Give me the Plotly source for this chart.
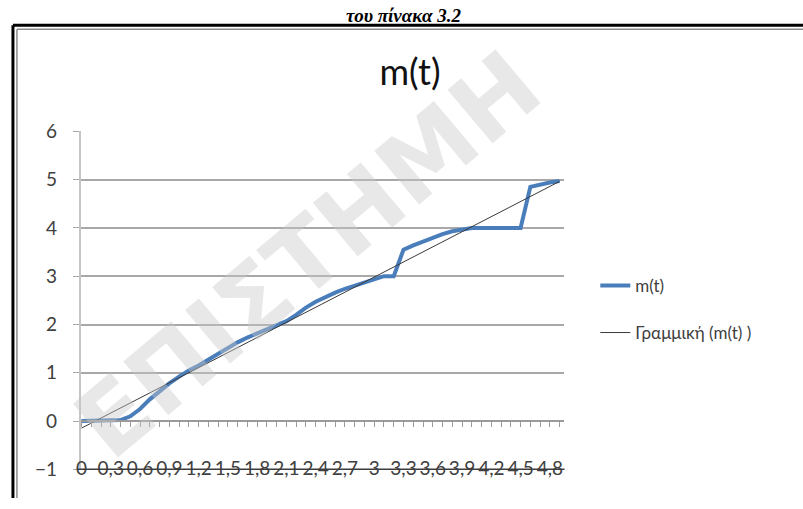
import numpy as np
import plotly.graph_objects as go

# time samples (s) and measured m(t)
t = [0.0, 0.1, 0.2, 0.3, 0.4, 0.5, 0.6, 0.7, 0.8, 0.9,
     1.0, 1.1, 1.2, 1.3, 1.4, 1.5, 1.6, 1.7, 1.8, 1.9,
     2.0, 2.1, 2.2, 2.3, 2.4, 2.5, 2.6, 2.7, 2.8, 2.9,
     3.0, 3.1, 3.2, 3.3, 3.4, 3.5, 3.6, 3.7, 3.8, 3.9,
     4.0, 4.1, 4.2, 4.3, 4.4, 4.5, 4.6, 4.7, 4.8, 4.9]
m = [0.0, 0.0, 0.0, 0.0, 0.02, 0.1, 0.25, 0.45, 0.62, 0.78,
     0.92, 1.05, 1.15, 1.27, 1.4, 1.52, 1.63, 1.73, 1.82, 1.9,
     1.98, 2.07, 2.2, 2.35, 2.47, 2.57, 2.66, 2.74, 2.81, 2.88,
     2.95, 3.0, 3.0, 3.55, 3.64, 3.72, 3.8, 3.87, 3.93, 3.97,
     4.0, 4.0, 4.0, 4.0, 4.0, 4.0, 4.85, 4.9, 4.94, 4.97]

x_tick_vals = [0.0, 0.3, 0.6, 0.9, 1.2, 1.5, 1.8, 2.1, 2.4, 2.7,
               3.0, 3.3, 3.6, 3.9, 4.2, 4.5, 4.8]
x_tick_text = ["0", "0,3", "0,6", "0,9", "1,2", "1,5", "1,8", "2,1", "2,4", "2,7",
               "3", "3,3", "3,6", "3,9", "4,2", "4,5", "4,8"]
y_ticks = [-1, 0, 1, 2, 3, 4, 5, 6]

# least-squares linear trend of m(t)
slope, intercept = np.polyfit(t, m, 1)
trend = [slope * v + intercept for v in t]

W, H = 803, 509
px_x = lambda p: p / W
px_y = lambda p: 1 - p / H

x_dom = [px_x(76), px_x(563)]
y_dom = [px_y(479), px_y(125)]
x_range = [-0.01, 4.95]
y_range = [-1, 6]


def y_at(v):
    return y_dom[0] + (v - y_range[0]) / (y_range[1] - y_range[0]) * (y_dom[1] - y_dom[0])


FONT = "Lato"
TXT = "#404040"

fig = go.Figure()
fig.add_trace(go.Scatter(
    x=t, y=m, mode="lines", name="m(t)", legendgroup="a",
    line=dict(color="#4a7ebb", width=4),
    xaxis="x", yaxis="y",
))
fig.add_trace(go.Scatter(
    x=t, y=trend, mode="lines", name="Γραμμική (m(t) )", legendgroup="b",
    line=dict(color="#3a3a3a", width=1),
    xaxis="x2", yaxis="y",
))

fig.update_layout(
    width=W, height=H,
    margin=dict(l=0, r=0, t=0, b=0),
    paper_bgcolor="white", plot_bgcolor="white",
    showlegend=True,
    legend=dict(
        x=px_x(594), y=px_y(268), xanchor="left", yanchor="top",
        font=dict(family=FONT, size=17, color=TXT),
        tracegroupgap=22, traceorder="grouped",
        bgcolor="rgba(0,0,0,0)",
    ),
    title=dict(
        text="m(t)", x=px_x(410), y=px_y(72), xanchor="center", yanchor="middle",
        font=dict(family=FONT, size=36, color="#111111"),
    ),
    # category labels sit just above the bottom edge of the plot area
    xaxis=dict(
        domain=x_dom, range=x_range, anchor="free", position=px_y(464),
        tickmode="array", tickvals=x_tick_vals, ticktext=x_tick_text,
        ticks="", showgrid=False, zeroline=False, showline=False,
        ticklabelstandoff=0,
        tickfont=dict(family=FONT, size=19, color=TXT),
    ),
    # horizontal axis crossing at m = 0, with a tick per sample
    xaxis2=dict(
        domain=x_dom, range=x_range, overlaying="x", anchor="free",
        position=y_at(0), side="bottom",
        tickmode="linear", tick0=0, dtick=0.1,
        ticks="outside", ticklen=5, tickcolor="#9a9a9a", tickwidth=1,
        showticklabels=False, showgrid=False, zeroline=False,
        showline=True, linecolor="#9a9a9a", linewidth=1.5,
    ),
    yaxis=dict(
        domain=y_dom, range=y_range,
        tickmode="array", tickvals=y_ticks,
        showgrid=True, gridcolor="#a8a8a8", gridwidth=1.5,
        zeroline=False,
        showline=True, linecolor="#c4c4c4", linewidth=1.5,
        ticks="outside", ticklen=6, tickcolor="#a8a8a8",
        ticklabelstandoff=12,
        tickfont=dict(family=FONT, size=19, color=TXT),
    ),
)

# dark bottom edge of the plot area
fig.add_shape(type="line", xref="paper", yref="paper",
              x0=px_x(72), x1=x_dom[1], y0=y_dom[0], y1=y_dom[0],
              line=dict(color="#3c3c3c", width=1.5))

# page frame around the chart
fig.add_shape(type="line", xref="paper", yref="paper",
              x0=px_x(8), x1=1.0, y0=px_y(14), y1=px_y(14),
              line=dict(color="black", width=3))
fig.add_shape(type="line", xref="paper", yref="paper",
              x0=px_x(8), x1=px_x(8), y0=0, y1=px_y(14),
              line=dict(color="black", width=3))
fig.add_shape(type="line", xref="paper", yref="paper",
              x0=px_x(12), x1=1.0, y0=px_y(18), y1=px_y(18),
              line=dict(color="#8c8c8c", width=1.5))
fig.add_shape(type="line", xref="paper", yref="paper",
              x0=px_x(12), x1=px_x(12), y0=0, y1=px_y(18),
              line=dict(color="#8c8c8c", width=1.5))

# caption line above the frame
fig.add_annotation(
    text="<b><i>του πίνακα 3.2</i></b>", xref="paper", yref="paper",
    x=px_x(402), y=px_y(4), xanchor="center", yanchor="middle",
    showarrow=False, font=dict(family="Liberation Serif", size=19, color="black"),
)

# diagonal watermark
fig.add_annotation(
    text="<b>ΕΠΙΣΤΗΜΗ</b>", xref="paper", yref="paper",
    x=px_x(305), y=px_y(255), xanchor="center", yanchor="middle",
    textangle=-40, showarrow=False,
    font=dict(family="DejaVu Sans", size=96, color="rgba(200,200,200,0.42)"),
)

fig.write_html("out.html")
